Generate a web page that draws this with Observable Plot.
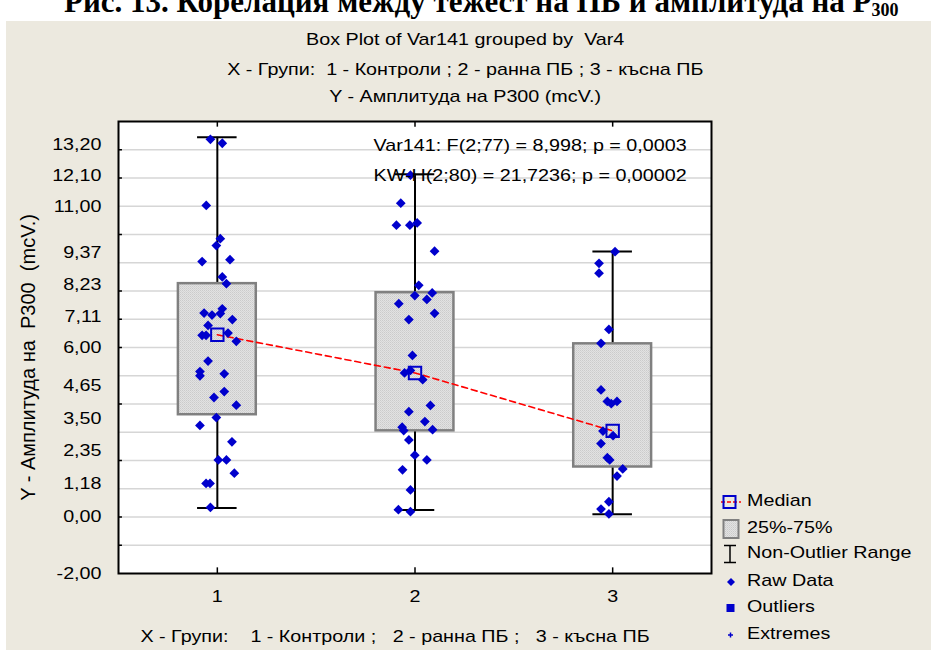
<!DOCTYPE html>
<html><head><meta charset="utf-8">
<script src="https://cdn.jsdelivr.net/npm/d3@7"></script>
<script src="https://cdn.jsdelivr.net/npm/@observablehq/plot@0.6"></script>
<style>
html,body{margin:0;padding:0;background:#fff;width:931px;height:650px;overflow:hidden;font-family:"Liberation Sans",Arial,sans-serif;color:#000;}
#title{position:absolute;left:64px;top:-14px;font:bold 31px/31px "Liberation Serif","Times New Roman",serif;white-space:nowrap;}
#title sub{font-size:18px;vertical-align:-4px;line-height:0;}
#panel{position:absolute;left:6px;top:21px;right:0;bottom:0;background:#ece9df;}
#chartwrap{position:absolute;left:0;top:0;}
.sub{position:absolute;left:0;width:931px;text-align:center;font-size:17px;line-height:20px;white-space:pre;}
.sub span{display:inline-block;transform:scaleX(1.16);transform-origin:center;}
.lgt{position:absolute;left:747px;font-size:17px;line-height:20px;white-space:pre;transform:scaleX(1.16);transform-origin:left center;}
.lgi{position:absolute;left:719px;}
svg text{white-space:pre;}
</style>
</head><body>
<svg width="0" height="0" style="position:absolute"><defs>
<pattern id="boxdots" width="2" height="2" patternUnits="userSpaceOnUse">
<rect width="2" height="2" fill="#e2e2e2"/><rect width="1" height="1" fill="#cbcbcb"/><rect x="1" y="1" width="1" height="1" fill="#d4d4d4"/>
</pattern></defs></svg>
<div id="title">Рис. 13. Корелация между тежест на ПБ и амплитуда на P<sub>300</sub></div>
<div id="panel"></div>
<div id="chartwrap"></div>
<div class="sub" style="top:30px"><span>Box Plot of Var141 grouped by  Var4</span></div>
<div class="sub" style="top:60px"><span>X - Групи:  1 - Контроли ; 2 - ранна ПБ ; 3 - късна ПБ</span></div>
<div class="sub" style="top:87px"><span>Y - Амплитуда на P300 (mcV.)</span></div>
<div id="legend"></div>
<script>
// ---- data ----
const groups = [1, 2, 3];
const whiskerLow = [0.32, 0.25, 0.10];
const q1 = [3.62, 3.05, 1.77];
const medians = [6.45, 5.10, 3.05];
const q3 = [8.26, 7.94, 6.13];
const whiskerHigh = [13.44, 12.13, 9.40];

const rawX1 = [0.965,1.025,0.944,1.015,0.995,0.923,1.064,1.025,1.046,0.933,0.973,1.025,1.015,1.076,0.953,0.923,0.943,1.054,1.096,0.953,0.912,0.912,1.035,1.035,0.983,1.096,0.995,0.912,1.074,1.005,1.046,1.086,0.943,0.963,0.965];
const rawY1 = [13.37,13.23,11.03,9.85,9.61,9.04,9.11,8.50,8.26,7.22,7.15,7.37,7.20,6.99,6.78,6.43,6.43,6.51,6.22,5.52,5.15,5.00,5.07,4.44,4.23,3.96,3.52,3.24,2.66,2.02,2.02,1.55,1.19,1.19,0.34];
const rawX2 = [1.977,1.928,1.906,1.974,2.011,2.099,2.019,1.999,2.087,2.060,1.918,2.099,1.969,1.987,1.947,1.977,2.039,2.078,1.969,2.050,1.935,1.943,2.089,1.969,1.999,2.060,1.937,1.977,1.916,1.977];
const rawY2 = [12.10,11.11,10.33,10.33,10.41,9.41,8.20,7.84,7.93,7.70,7.55,7.21,6.99,5.72,5.10,5.19,4.86,3.95,3.73,3.38,3.18,3.06,3.09,2.73,2.19,2.02,1.67,0.96,0.26,0.19];
const rawX3 = [3.012,2.931,2.931,2.981,2.941,2.941,2.973,2.993,3.022,2.951,3.002,2.941,2.973,2.985,3.051,3.022,2.981,2.941,2.981];
const rawY3 = [9.39,8.98,8.63,6.64,6.15,4.50,4.09,4.01,4.09,3.04,2.88,2.60,2.10,2.02,1.70,1.45,0.54,0.28,0.11];

const yTickValues = [13.2, 12.1, 11.0, 9.37, 8.23, 7.11, 6.0, 4.65, 3.5, 2.35, 1.18, 0, -2];
const gridValues = [-1,0,1,2,3,4,5,6,7,8,9,10,11,12,13];
const yInnerTicks = [13,12,10,8,7,6,4,2,0,-1];

const statLine1 = "Var141: F(2;77) = 8,998; p = 0,0003";
const statLine2 = "KW-H(2;80) = 21,7236; p = 0,00002";
const yTitle = "Y - Амплитуда на  P300  (mcV.)";
const xTitle = "X - Групи:    1 - Контроли ;   2 - ранна ПБ ;   3 - късна ПБ";
const legendItems = ["Median", "25%-75%", "Non-Outlier Range", "Raw Data", "Outliers", "Extremes"];

// ---- build tables ----
const stats = groups.map((g, i) => ({group: g, low: whiskerLow[i], q1: q1[i], median: medians[i], q3: q3[i], high: whiskerHigh[i]}));
const points = [];
[[rawX1, rawY1], [rawX2, rawY2], [rawX3, rawY3]].forEach(([xs, ys]) => ys.forEach((y, i) => points.push({x: xs[i], y})));
const fmt = d => d.toFixed(2).replace(".", ",");
const BLUE = "#0000cc";
const CAP = 0.1, BOX = 0.197;

const chart = Plot.plot({
  width: 931, height: 650,
  marginTop: 121, marginLeft: 118, marginRight: 220, marginBottom: 77,
  style: {background: "transparent", fontFamily: '"Liberation Sans", Arial, sans-serif', fontSize: "17px", color: "black", overflow: "visible"},
  x: {domain: [0.5, 3.5]},
  y: {domain: [-2, 14]},
  marks: [
    Plot.frame({fill: "white"}),
    Plot.ruleY(gridValues, {stroke: "#d6d6d6", strokeWidth: 1.5}),
    Plot.ruleX(stats, {x: "group", y1: "low", y2: "high", stroke: "black", strokeWidth: 2}),
    Plot.ruleY(stats, {y: "low", x1: d => d.group - CAP, x2: d => d.group + CAP, stroke: "black", strokeWidth: 2}),
    Plot.ruleY(stats, {y: "high", x1: d => d.group - CAP, x2: d => d.group + CAP, stroke: "black", strokeWidth: 2}),
    Plot.rect(stats, {x1: d => d.group - BOX, x2: d => d.group + BOX, y1: "q1", y2: "q3", fill: "url(#boxdots)", stroke: "#808080", strokeWidth: 2.5}),
    Plot.line(stats, {x: "group", y: "median", stroke: "#ff0000", strokeWidth: 1.6, strokeDasharray: "6,4"}),
    Plot.dot(points, {x: "x", y: "y", symbol: "diamond2", r: 4.4, fill: BLUE}),
    Plot.dot(stats, {x: "group", y: "median", symbol: "square", r: 7, stroke: BLUE, strokeWidth: 2, fill: "none"}),
    Plot.ruleY(yInnerTicks, {x1: 0.5, x2: 0.52, stroke: "black", strokeWidth: 1.5}),
    Plot.ruleX(groups, {y1: 14, y2: 13.8, stroke: "black", strokeWidth: 1.5}),
    Plot.ruleX(groups, {y1: -2, y2: -1.8, stroke: "black", strokeWidth: 1.5}),
    Plot.frame({stroke: "black", strokeWidth: 2}),
    Plot.axisY({ticks: yTickValues, tickFormat: fmt, tickSize: 0, tickPadding: 17, fontSize: 17, label: null}),
    Plot.axisX({ticks: groups, tickFormat: d => String(d), tickSize: 0, tickPadding: 16, fontSize: 17, label: null}),
    Plot.text([statLine1], {text: d => d, frameAnchor: "top-left", textAnchor: "start", dx: 255, dy: 17, fontSize: 17}),
    Plot.text([statLine2], {text: d => d, frameAnchor: "top-left", textAnchor: "start", dx: 255, dy: 47, fontSize: 17}),
    Plot.text([yTitle], {text: d => d, frameAnchor: "left", textAnchor: "middle", lineAnchor: "middle", rotate: -90, dx: -90, dy: 10, fontSize: 20}),
    Plot.text([xTitle], {text: d => d, frameAnchor: "bottom", textAnchor: "middle", lineAnchor: "middle", dx: -20, dy: 63, fontSize: 17})
  ]
});
document.getElementById("chartwrap").append(chart);

// widen horizontal texts (the reference image is stretched sideways)
const SX = 1.16;
chart.querySelectorAll("text").forEach(t => {
  if (t.textContent.includes("Амплитуда")) return;
  const spans = t.querySelectorAll("tspan");
  (spans.length ? Array.from(spans) : [t]).forEach(el => {
    const L = el.getComputedTextLength();
    if (L > 0) { el.setAttribute("textLength", (L * SX).toFixed(2)); el.setAttribute("lengthAdjust", "spacingAndGlyphs"); }
  });
});

// ---- legend ----
const legend = document.getElementById("legend");
const rowY = [502, 529, 554, 582, 608, 635];
const icons = [
  `<line x1="2" y1="10" x2="22" y2="10" stroke="#ff0000" stroke-width="1.5" stroke-dasharray="4,2"/><rect x="4.5" y="4" width="12" height="12" fill="none" stroke="${BLUE}" stroke-width="2"/>`,
  `<rect x="4.5" y="1" width="15" height="18" fill="url(#boxdots)" stroke="#808080" stroke-width="2"/>`,
  `<line x1="5" y1="1.5" x2="17" y2="1.5" stroke="black" stroke-width="1.5"/><line x1="11" y1="1.5" x2="11" y2="18.5" stroke="black" stroke-width="1.5"/><line x1="5" y1="18.5" x2="17" y2="18.5" stroke="black" stroke-width="1.5"/>`,
  `<path d="M12 6 L16 10 L12 14 L8 10 Z" fill="${BLUE}"/>`,
  `<rect x="7.5" y="6" width="8" height="8" fill="${BLUE}"/>`,
  `<path d="M11.5 7.5 V12.5 M9 10 H14" stroke="${BLUE}" stroke-width="1.5"/>`
];
legendItems.forEach((label, i) => {
  const ic = document.createElement("div");
  ic.className = "lgi";
  ic.style.top = (rowY[i] - 10) + "px";
  ic.innerHTML = `<svg width="24" height="20">${icons[i]}</svg>`;
  legend.append(ic);
  const tx = document.createElement("div");
  tx.className = "lgt";
  tx.style.top = (rowY[i] - 11) + "px";
  tx.textContent = label;
  legend.append(tx);
});
</script>
</body></html>
